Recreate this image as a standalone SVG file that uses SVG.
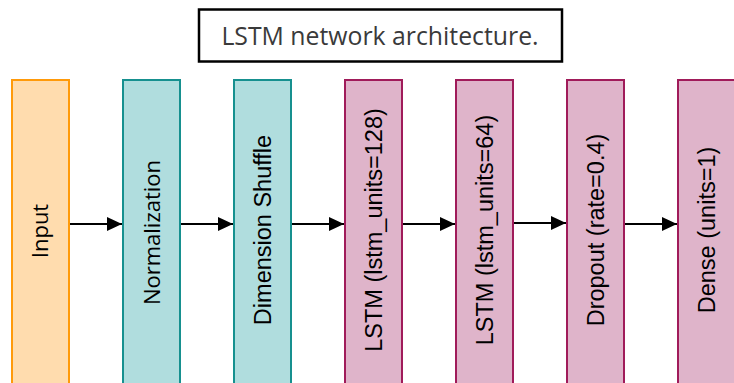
<svg xmlns="http://www.w3.org/2000/svg" width="734" height="383" viewBox="0 0 734 383">
  <defs>
    <marker id="arrow" viewBox="0 0 15 14" refX="15" refY="7" markerWidth="15" markerHeight="14" markerUnits="userSpaceOnUse" orient="auto">
      <path d="M0,0 L15,7 L0,14 Z" fill="#000"/>
    </marker>
  </defs>
  <style>
    .layer { stroke-width: 2; }
    .input { fill: #FFDCAE; stroke: #FF9A0A; }
    .prep { fill: #B0DDDE; stroke: #16908F; }
    .model { fill: #DFB4CA; stroke: #A01B5A; }
    .lbl-os { font-family: "Open Sans", "Liberation Sans", sans-serif; font-size: 22px; fill: #000; text-anchor: middle; }
    .lbl { font-family: "Liberation Sans", Arial, sans-serif; font-size: 23.5px; fill: #000; text-anchor: middle; }
    .edge { stroke: #000; stroke-width: 2; fill: none; marker-end: url(#arrow); }
    .title-box { fill: #fff; stroke: #000; stroke-width: 2.5; }
    .title { font-family: "Open Sans", "Liberation Sans", sans-serif; font-size: 24.8px; fill: #3a3a3a; text-anchor: middle; }
  </style>

  <g id="title">
    <rect class="title-box" x="199" y="9.5" width="363" height="52"/>
    <text class="title" x="380" y="45">LSTM network architecture.</text>
  </g>

  <g id="input">
    <rect class="layer input" x="12" y="80" width="57" height="320"/>
    <text class="lbl-os" transform="translate(48,231) rotate(-90)">Input</text>
  </g>
  <g id="normalization">
    <rect class="layer prep" x="123" y="80" width="57" height="320"/>
    <text class="lbl-os" transform="translate(159.5,232.5) rotate(-90)">Normalization</text>
  </g>
  <g id="dimension-shuffle">
    <rect class="layer prep" x="234" y="80" width="57" height="320"/>
    <text class="lbl" transform="translate(271,230) rotate(-90)">Dimension Shuffle</text>
  </g>
  <g id="lstm-128">
    <rect class="layer model" x="345" y="80" width="57" height="320"/>
    <text class="lbl" transform="translate(382,230) rotate(-90)">LSTM (lstm_units=128)</text>
  </g>
  <g id="lstm-64">
    <rect class="layer model" x="456" y="80" width="57" height="320"/>
    <text class="lbl" transform="translate(493,230) rotate(-90)">LSTM (lstm_units=64)</text>
  </g>
  <g id="dropout">
    <rect class="layer model" x="567" y="80" width="57" height="320"/>
    <text class="lbl" transform="translate(604,230) rotate(-90)">Dropout (rate=0.4)</text>
  </g>
  <g id="dense">
    <rect class="layer model" x="678" y="80" width="57" height="320"/>
    <text class="lbl" transform="translate(715,230) rotate(-90)">Dense (units=1)</text>
  </g>

  <g id="connectors">
    <line class="edge" x1="70" y1="224" x2="122" y2="224"/>
    <line class="edge" x1="181" y1="224" x2="233" y2="224"/>
    <line class="edge" x1="292" y1="224" x2="344" y2="224"/>
    <line class="edge" x1="403" y1="224" x2="455" y2="224"/>
    <line class="edge" x1="514" y1="223" x2="566" y2="223"/>
    <line class="edge" x1="625" y1="224" x2="677" y2="224"/>
  </g>
</svg>
